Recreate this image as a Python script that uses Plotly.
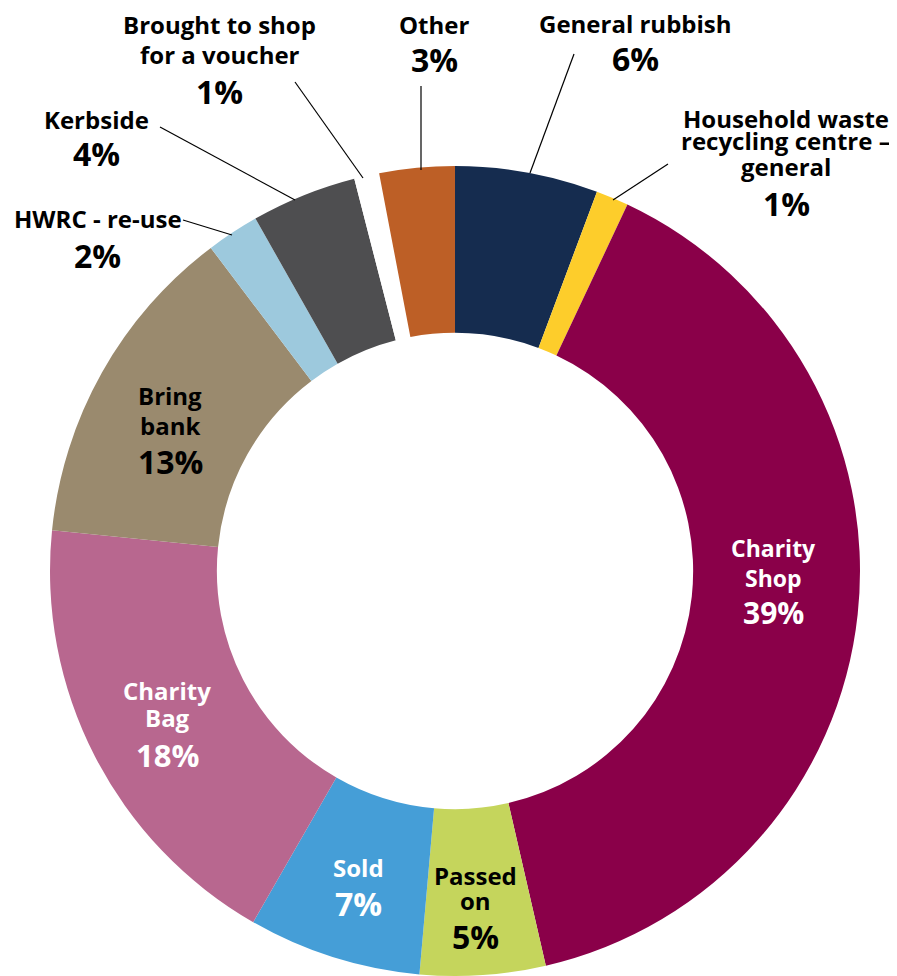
import plotly.graph_objects as go

W, H = 897, 976

# ---- data ----
categories = [
    "General rubbish",
    "Household waste recycling centre – general",
    "Charity Shop",
    "Passed on",
    "Sold",
    "Charity Bag",
    "Bring bank",
    "HWRC - re-use",
    "Kerbside",
    "Brought to shop for a voucher",
    "Other",
]
values = [5.7, 1.3, 39.4, 5.0, 6.9, 18.3, 13.1, 2.1, 4.2, 1.0, 3.0]
colors = ["#152C4F", "#FDCD2B", "#8A0049", "#C5D55C", "#459ED7", "#B8678F",
          "#9A8A6E", "#9DC9DD", "#4E4E50", "#FFFFFF", "#BD5F26"]
# label wording as printed (line breaks)
label_lines = [
    ["General rubbish"],
    ["Household waste", "recycling centre –", "general"],
    ["Charity", "Shop"],
    ["Passed", "on"],
    ["Sold"],
    ["Charity", "Bag"],
    ["Bring", "bank"],
    ["HWRC - re-use"],
    ["Kerbside"],
    ["Brought to shop", "for a voucher"],
    ["Other"],
]
pct_text = [f"{round(v)}%" for v in values]

# ---- layout (pixel positions in the page) ----
# x centre, y of each name line, y of percent, text colour, name size, pct size
label_pos = [
    (635, [23.5], 58.5, "#000000", 24, 32),
    (786, [118.5, 141, 166], 203, "#000000", 24, 32),
    (773, [547.5, 577.5], 612, "#FFFFFF", 23, 30),
    (475, [875, 900], 936, "#000000", 24, 32),
    (358, [867.5], 903.5, "#FFFFFF", 24, 32),
    (167, [690, 717.5], 755, "#FFFFFF", 24, 31),
    (170, [396, 425], 461, "#000000", 24, 32),
    (97.5, [219], 255, "#000000", 24, 32),
    (96.5, [119.5], 153.5, "#000000", 24, 32),
    (219.5, [24.5, 55], 91.5, "#000000", 24, 32),
    (434, [24.5], 59, "#000000", 24, 32),
]
leader_lines = [
    ((574, 54), (530, 173)),
    ((668, 164), (613, 200)),
    ((421, 86), (421, 170)),
    ((295, 82), (363, 178)),
    ((160, 127), (295, 200)),
    ((183, 220), (232, 235)),
]
FONT = "Open Sans"
OFF = 8  # page body margin

def px(x):
    return (x - OFF) / W

def py(y):
    return 1 - (y - OFF) / H

fig = go.Figure(go.Pie(
    labels=categories,
    values=values,
    sort=False,
    direction="clockwise",
    rotation=0,
    hole=0.588,
    marker=dict(colors=colors, line=dict(width=0)),
    textinfo="none",
    hoverinfo="label+percent",
    domain=dict(x=[px(50), px(860)], y=[py(976), py(166)]),
    showlegend=False,
))

annotations = []
for i, (xc, name_ys, pct_y, tc, ns, ps) in enumerate(label_pos):
    for line, yy in zip(label_lines[i], name_ys):
        annotations.append(dict(
            x=px(xc), y=py(yy), xref="paper", yref="paper",
            text=line, showarrow=False, xanchor="center", yanchor="middle",
            borderpad=0,
            font=dict(family=FONT, size=ns, color=tc, weight="bold"),
        ))
    annotations.append(dict(
        x=px(xc), y=py(pct_y), xref="paper", yref="paper",
        text=pct_text[i], showarrow=False, xanchor="center", yanchor="middle",
        borderpad=0,
        font=dict(family=FONT, size=ps, color=tc, weight="bold"),
    ))

shapes = []
for (x0, y0), (x1, y1) in leader_lines:
    shapes.append(dict(type="line", xref="paper", yref="paper",
                       x0=px(x0), y0=py(y0), x1=px(x1), y1=py(y1),
                       line=dict(color="#000000", width=1.2)))

fig.update_layout(
    width=W, height=H,
    margin=dict(l=0, r=0, t=0, b=0),
    paper_bgcolor="white", plot_bgcolor="white",
    annotations=annotations,
    shapes=shapes,
)

fig.write_html("out.html")
